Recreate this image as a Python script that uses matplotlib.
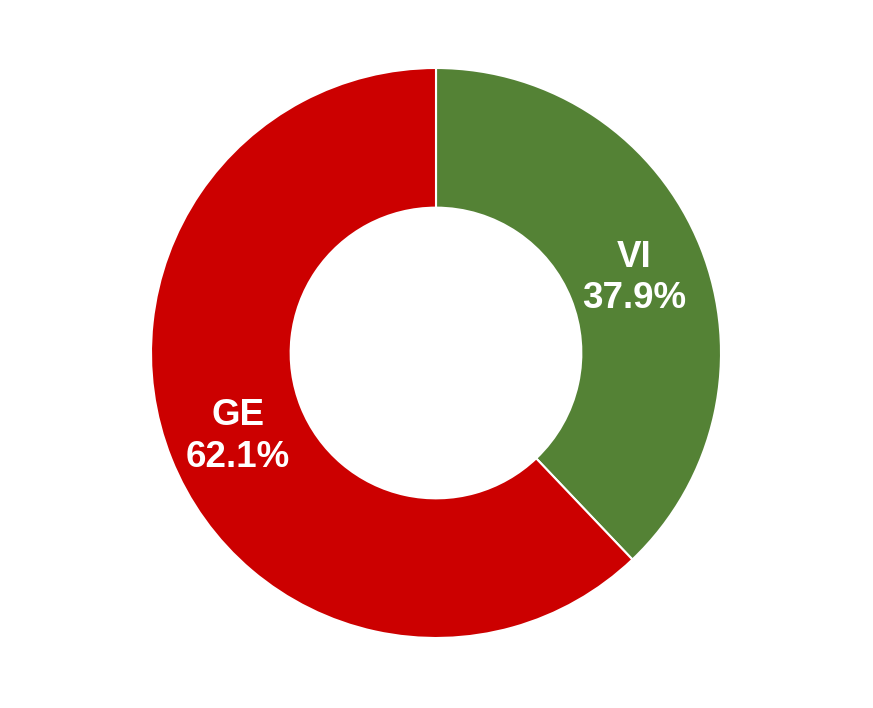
import matplotlib.pyplot as plt
import numpy as np

labels = ['VI', 'GE']
shares = [37.9, 62.1]
colors = ['#548235', '#CC0000']

fig = plt.figure(figsize=(8.73, 7.08), dpi=100)
ax = fig.add_axes([0, 0, 1, 1])

wedges, _ = ax.pie(shares, colors=colors, startangle=90, counterclock=False,
                   radius=1.0, wedgeprops=dict(width=0.49, edgecolor='white', linewidth=1.5))

# label each ring segment in the middle of the band
ang = 90.0
for lab, val in zip(labels, shares):
    mid = np.deg2rad(ang - val * 3.6 / 2)
    ang -= val * 3.6
    r = 0.75
    ax.text(r * np.cos(mid), r * np.sin(mid) - 0.015, f'{lab}\n{val:.1f}%',
            ha='center', va='center', color='white', fontsize=26.5,
            fontweight='bold', family='Liberation Sans', linespacing=1.25)

R = 285.0
cx, cy = 436.0, 708 - 353.0
ax.set_xlim(-cx / R, (873 - cx) / R)
ax.set_ylim(-cy / R, (708 - cy) / R)
ax.set_aspect('auto')
ax.axis('off')

fig.savefig('out.png', dpi=100)
